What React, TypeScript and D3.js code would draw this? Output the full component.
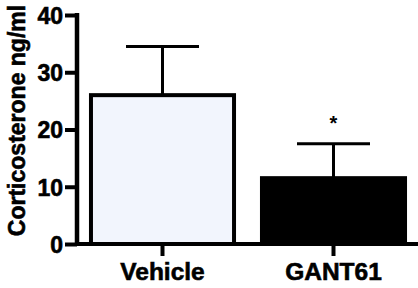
import React, { useRef, useEffect } from "react";
import * as d3 from "d3";

const GROUPS: string[] = ["Vehicle", "GANT61"];
const MEANS: number[] = [26, 11.5];
const ERRORS: number[] = [8.5, 6];
const STARS: string[] = ["", "*"];
const FILLS: string[] = ["#f2f5fd", "#000000"];
const Y_TICKS: number[] = [0, 10, 20, 30, 40];
const Y_LABEL = "Corticosterone ng/ml";

const FONT = "'Liberation Sans', Arial, Helvetica, sans-serif";

export default function App() {
  const svgRef = useRef<SVGSVGElement>(null);

  useEffect(() => {
    const width = 418;
    const axisX = 77, axisY = 244;

    const svg = d3.select(svgRef.current);
    svg.selectAll("*").remove();

    const y = d3.scaleLinear().domain([0, 40]).range([axisY, 15]);
    const x = d3.scaleBand<string>()
      .domain(GROUPS)
      .range([axisX, 419])
      .paddingInner(0.14)
      .paddingOuter(0.07);

    const rows = GROUPS.map((g, i) => ({ g, mean: MEANS[i], err: ERRORS[i], star: STARS[i], fill: FILLS[i] }));

    // heavy bold text, like the original export
    const boldText = (sel: any, size: number) =>
      sel.style("font-family", FONT)
        .style("font-size", `${size}px`)
        .style("font-weight", 700)
        .attr("fill", "#000")
        .attr("stroke", "#000")
        .attr("stroke-width", 0.6);

    // error bars (under the bars)
    const capW = 73;
    const eb = svg.append("g").attr("stroke", "#000").attr("stroke-width", 3);
    rows.forEach(d => {
      const cx = x(d.g)! + x.bandwidth() / 2;
      eb.append("line")
        .attr("x1", cx).attr("x2", cx)
        .attr("y1", y(d.mean)).attr("y2", y(d.mean + d.err));
      eb.append("line")
        .attr("x1", cx - capW / 2).attr("x2", cx + capW / 2)
        .attr("y1", y(d.mean + d.err)).attr("y2", y(d.mean + d.err));
    });

    // bars
    svg.append("g")
      .selectAll("rect")
      .data(rows)
      .join("rect")
      .attr("x", d => x(d.g)! + 2)
      .attr("y", d => y(d.mean))
      .attr("width", x.bandwidth() - 4)
      .attr("height", d => axisY - y(d.mean))
      .attr("fill", d => d.fill)
      .attr("stroke", "#000")
      .attr("stroke-width", 4);

    // significance stars
    svg.append("g")
      .selectAll("text")
      .data(rows)
      .join("text")
      .attr("x", d => x(d.g)! + x.bandwidth() / 2)
      .attr("y", d => y(d.mean + d.err) - 14)
      .attr("text-anchor", "middle")
      .call(boldText, 20)
      .attr("stroke-width", 0)
      .text(d => d.star);

    // y axis
    const ya = svg.append("g").attr("transform", `translate(${axisX},0)`);
    ya.call(d3.axisLeft(y).tickValues(Y_TICKS).tickSize(12).tickPadding(2).tickSizeOuter(0));
    ya.select(".domain").attr("stroke-width", 4.5).attr("d", `M0,${y(40) - 2}V${axisY + 2}`);
    ya.selectAll(".tick line").attr("stroke-width", 4);
    ya.selectAll("text").call(boldText, 23).attr("dy", "0.36em");

    // x axis
    const xa = svg.append("g").attr("transform", `translate(0,${axisY})`);
    xa.call(d3.axisBottom(x).tickSize(12).tickPadding(6).tickSizeOuter(0));
    xa.select(".domain").attr("stroke-width", 4).attr("d", `M${axisX - 2},0H${width}`);
    xa.selectAll(".tick line").attr("stroke-width", 4);
    xa.selectAll("text").call(boldText, 24.5).attr("y", 36).attr("dy", 0);

    // y label
    svg.append("text")
      .attr("transform", `translate(25,${(y(0) + y(40)) / 2 - 9}) rotate(-90)`)
      .attr("text-anchor", "middle")
      .call(boldText, 23)
      .text(Y_LABEL);
  }, []);

  return (
    <svg
      ref={svgRef}
      width={418}
      height={288}
      style={{ position: "absolute", left: 0, top: 0, background: "#fff", display: "block" }}
    />
  );
}
